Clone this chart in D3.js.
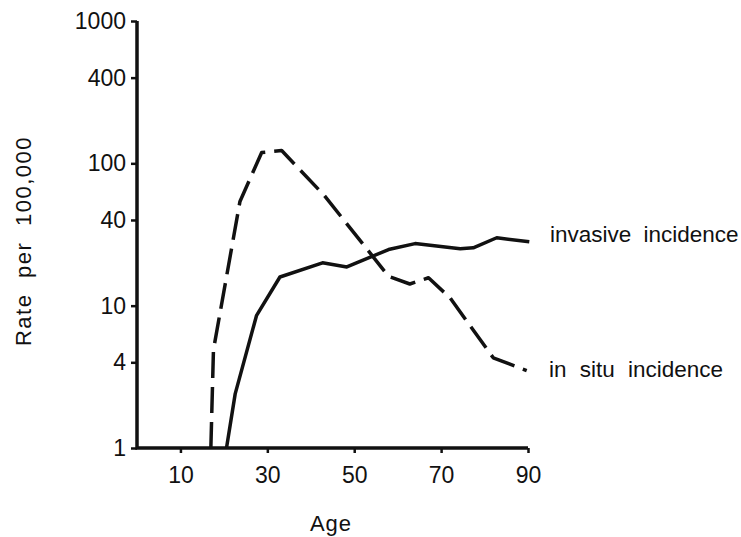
<!DOCTYPE html>
<html>
<head>
<meta charset="utf-8">
<script src="https://cdn.jsdelivr.net/npm/d3@7"></script>
<style>
  html, body { margin: 0; padding: 0; background: #fff; }
  svg { display: block; }
  text { font-family: "Liberation Sans", Arial, sans-serif; fill: #111; }
</style>
</head>
<body>
<div id="chart"></div>
<script>
// ---- data ----
const invasiveAge   = [20.6, 22.6, 27.5, 32.9, 42.7, 48.3, 57.9, 64.0, 74.4, 77.4, 82.8, 90.3];
const invasiveRate  = [1.0, 2.4, 8.5, 15.9, 20.0, 18.7, 24.8, 27.3, 25.1, 25.5, 30.0, 28.1];
const inSituAge     = [17.0, 17.6, 23.7, 28.7, 33.3, 37.5, 43.0, 57.9, 62.8, 67.1, 72.1, 82.0, 89.7];
const inSituRate    = [1.0, 4.9, 54, 119, 123, 90, 60, 16.1, 14.2, 15.7, 11.3, 4.3, 3.5];
const xTickValues   = [10, 30, 50, 70, 90];
const yTickValues   = [1, 4, 10, 40, 100, 400, 1000];
const seriesLabels  = ["invasive incidence", "in situ incidence"];
const xTitle = "Age";
const yTitle = "Rate per 100,000";

const W = 741, H = 537;
const svg = d3.select("#chart").append("svg").attr("width", W).attr("height", H);

const x = d3.scaleLinear().domain([0, 90]).range([137, 528]);
const y = d3.scaleLog().domain([1, 1000]).range([448, 21]);

const ink = "#111";

// axes
const gx = svg.append("g").attr("transform", `translate(0,${y(1)})`)
  .call(d3.axisBottom(x).tickValues(xTickValues).tickSize(5).tickPadding(14).tickFormat(d3.format("d")));
const gy = svg.append("g").attr("transform", `translate(${x(0)},0)`)
  .call(d3.axisLeft(y).tickValues(yTickValues).tickSize(6).tickPadding(5).tickFormat(d3.format("d")));
[gx, gy].forEach(g => {
  g.select(".domain").remove();
  g.selectAll(".tick line").attr("stroke", ink).attr("stroke-width", 2.5);
  g.selectAll(".tick text").attr("fill", ink).style("font-size", "23px")
    .style("font-family", "'Liberation Sans', Arial, sans-serif");
});

svg.append("path")
  .attr("d", `M${x(0)},${y(1000)}V${y(1)}H${x(90)}`)
  .attr("fill", "none").attr("stroke", ink).attr("stroke-width", 3.5);

// lines
const line = d3.line().x(d => x(d[0])).y(d => y(d[1]));
const invasive = invasiveAge.map((a, i) => [a, invasiveRate[i]]);
const inSitu = inSituAge.map((a, i) => [a, inSituRate[i]]);

svg.append("path").datum(invasive).attr("d", line)
  .attr("fill", "none").attr("stroke", ink).attr("stroke-width", 3.5)
  .attr("stroke-linejoin", "round");
svg.append("path").datum(inSitu).attr("d", line)
  .attr("fill", "none").attr("stroke", ink).attr("stroke-width", 3.5)
  .attr("stroke-dasharray", "26,9").attr("stroke-linejoin", "round");

// series labels
svg.append("text").attr("x", 550).attr("y", 242)
  .style("font-size", "22.5px").style("word-spacing", "6px").text(seriesLabels[0]);
svg.append("text").attr("x", 549).attr("y", 377)
  .style("font-size", "22.5px").style("word-spacing", "7px").text(seriesLabels[1]);

// axis titles
svg.append("text").attr("x", 331).attr("y", 531).attr("text-anchor", "middle")
  .style("font-size", "22px").style("letter-spacing", "1px").text(xTitle);
svg.append("text").attr("transform", "translate(31,241) rotate(-90)").attr("text-anchor", "middle")
  .style("font-size", "22px").style("letter-spacing", "1.5px").style("word-spacing", "8px").text(yTitle);
</script>
</body>
</html>
